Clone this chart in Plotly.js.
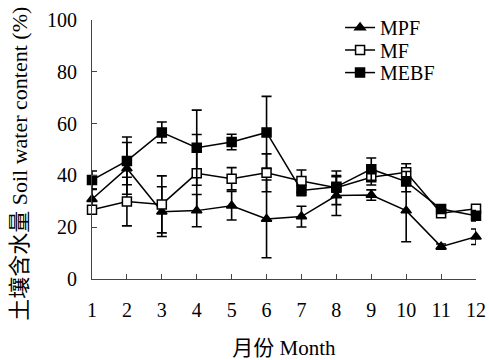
<!DOCTYPE html>
<html><head><meta charset="utf-8">
<script src="https://cdn.plot.ly/plotly-3.0.1.min.js"></script>
<style>html,body{margin:0;padding:0;background:#fff}#c{width:489px;height:360px}</style>
</head><body><div id="c"></div>
<script>
const months = [1,2,3,4,5,6,7,8,9,10,11,12];
const xTickLabels = ['1','2','3','4','5','6','7','8','9','10','11','12'];
const seriesNames = ['MPF','MF','MEBF'];
const mpf    = [30.8, 42.7, 26.0, 26.4, 28.3, 23.2, 24.1, 32.2, 32.4, 26.4, 12.5, 16.3];
const mpfErr = [3.8, 10.0, 9.6, 6.2, 5.5, 15.0, 4.0, 7.7, 2.0, 12.0, 1.0, 3.0];
const mf     = [26.7, 29.9, 28.8, 40.8, 38.7, 41.0, 37.8, 35.2, 39.3, 41.2, 25.4, 27.1];
const mfErr  = [1.5, 9.4, 11.0, 15.0, 4.3, 7.3, 4.3, 6.5, 3.0, 3.3, 1.5, 1.5];
const mebf   = [38.2, 45.6, 56.6, 50.7, 52.9, 56.6, 34.2, 35.6, 42.4, 37.6, 27.0, 24.4];
const mebfErr= [3.5, 9.2, 4.0, 14.5, 3.0, 13.9, 2.0, 3.9, 4.3, 3.9, 1.5, 2.0];

const FONT = 'Liberation Serif, Times New Roman, Noto Sans CJK SC, serif';
function tr(name, y, err, symbol, fill, leg){
  return {
    x: months, y: y, name: name, type: 'scatter', mode: 'lines+markers', legend: leg,
    line: {color: '#000', width: 1.5},
    marker: {symbol: symbol, size: 9, color: fill, line: {color: '#000', width: 1.5}},
    error_y: {type: 'data', array: err, visible: true, color: '#000', thickness: 1.6, width: 5},
    cliponaxis: false
  };
}
const data = [
  tr(seriesNames[0], mpf, mpfErr, 'triangle-up', '#000', 'legend'),
  tr(seriesNames[1], mf, mfErr, 'square', '#fff', 'legend2'),
  tr(seriesNames[2], mebf, mebfErr, 'square', '#000', 'legend3')
];
function leg(y){
  return {x: 0.646, y: y, xanchor: 'left', yanchor: 'middle', bgcolor: 'rgba(0,0,0,0)',
          font: {family: FONT, size: 20, color: '#000'}, itemwidth: 30, itemsizing: 'trace'};
}
const layout = {
  width: 489, height: 360,
  margin: {l: 92, r: 13, t: 20, b: 81, autoexpand: false},
  paper_bgcolor: '#fff', plot_bgcolor: '#fff',
  font: {family: FONT, size: 20, color: '#000'},
  showlegend: true,
  legend: leg(0.971), legend2: leg(0.884), legend3: leg(0.797),
  xaxis: {
    range: [1, 12], tickmode: 'array', tickvals: months, ticktext: xTickLabels,
    ticks: 'inside', ticklen: 5, tickcolor: '#444', showline: true, linecolor: '#444', linewidth: 1,
    showgrid: false, zeroline: false, tickfont: {family: FONT, size: 20}, ticklabelstandoff: 13,
    automargin: false,
    title: {text: '月份 Month', font: {family: FONT, size: 21}, standoff: 23}
  },
  yaxis: {
    range: [0, 100], dtick: 20, ticks: 'inside', ticklen: 5, tickcolor: '#444',
    showline: true, linecolor: '#444', linewidth: 1, showgrid: false, zeroline: false,
    tickfont: {family: FONT, size: 20}, ticklabelstandoff: 10, automargin: false
  },
  annotations: [{
    text: '土壤含水量 Soil water content (%)', textangle: -90,
    xref: 'paper', yref: 'paper', x: 0, y: 0.445, xanchor: 'center', yanchor: 'middle',
    xshift: -72, showarrow: false, font: {family: FONT, size: 22, color: '#000'}
  }]
};
Plotly.newPlot('c', data, layout, {displayModeBar: false, staticPlot: true});
</script></body></html>
